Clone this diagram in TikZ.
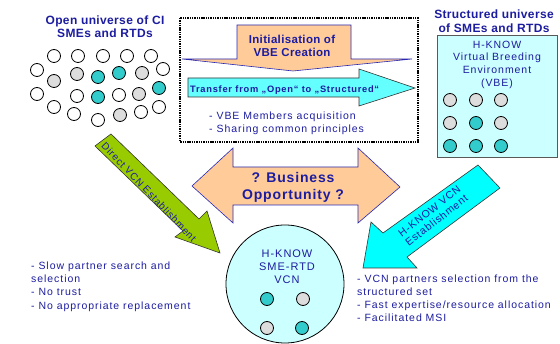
\documentclass[tikz,border=0pt]{standalone}
\usepackage{fontspec}
\setmainfont{Liberation Sans}
\newfontfamily\rgf[LetterSpace=9]{Liberation Sans}
\newfontfamily\hdf[LetterSpace=3]{Liberation Sans}
\newfontfamily\tbf[LetterSpace=8]{Liberation Sans}
\newfontfamily\bof[LetterSpace=6]{Liberation Sans}
\definecolor{bluetxt}{RGB}{28,28,160}
\definecolor{orfill}{RGB}{255,204,153}
\definecolor{orline}{RGB}{40,40,180}
\definecolor{cyanA}{RGB}{100,255,255}
\definecolor{cyanB}{RGB}{0,255,255}
\definecolor{lcyan}{RGB}{204,255,255}
\definecolor{tealc}{RGB}{51,204,204}
\definecolor{grayc}{RGB}{221,221,221}
\definecolor{greenc}{RGB}{153,204,0}
\begin{document}
\begin{tikzpicture}[x=1pt,y=-1pt,
  dot/.style={circle,draw=black,line width=0.8pt,minimum size=13pt,inner sep=0pt},
  wd/.style={dot,fill=white},
  gd/.style={dot,fill=grayc},
  td/.style={dot,fill=tealc},
  heading/.style={inner sep=0pt,text=bluetxt,align=center,font={\hdf\bfseries\fontsize{12}{13.5}\selectfont}},
  plain/.style={inner sep=0pt,text=bluetxt,font={\rgf\fontsize{10.5}{13.2}\selectfont}},
  orarrow/.style={fill=orfill,draw=orline,line width=0.6pt,line join=miter},
  cyarrow/.style={draw=black!80,line width=0.6pt},
  dotbox/.style={draw=black,line width=2pt,dash pattern=on 1.4pt off 0.9pt}
]
\useasboundingbox (0,0) rectangle (560,344);

% cut title
\begin{scope}
\clip (0,0) rectangle (560,344);
\node[anchor=base west,inner sep=0pt,font={\tbf\bfseries\fontsize{20}{24}\selectfont}] (title) at (82,-5) {Bridging Opportunity};
\end{scope}

% left heading
\node[heading] (openh) at (105,26.5) {Open universe of CI\\SMEs and RTDs};

% left circles
\node[wd] (a1) at (54,56) {};
\node[wd] (a2) at (78,56) {};
\node[wd] (a3) at (103,56) {};
\node[wd] (a4) at (127,56) {};
\node[wd] (a5) at (151,56) {};
\node[wd] (b1) at (37,70) {};
\node[gd] (b2) at (54,81) {};
\node[gd] (b3) at (77,74) {};
\node[td] (b4) at (98,77) {};
\node[td] (b5) at (119,73) {};
\node[gd] (b6) at (142,73) {};
\node[wd] (b7) at (163,69) {};
\node[wd] (c1) at (37,94) {};
\node[wd] (c2) at (77,96) {};
\node[td] (c3) at (98,97) {};
\node[wd] (c4) at (119,95) {};
\node[gd] (c5) at (139,94) {};
\node[td] (c6) at (159,88) {};
\node[wd] (d1) at (54,107) {};
\node[wd] (d2) at (74,114) {};
\node[wd] (d3) at (98,120) {};
\node[gd] (d4) at (120,115) {};
\node[wd] (d5) at (141,112) {};
\node[wd] (d6) at (159,107) {};

% dotted box
\draw[dotbox] (180,18) rectangle (418,142);

% orange down arrow
\draw[orarrow] (237,25) -- (351,25) -- (351,59) -- (412,59) -- (293,71) -- (182,59) -- (237,59) -- cycle;
\node[heading,font={\hdf\bfseries\fontsize{11.5}{13}\selectfont}] (init) at (292,45.5) {Initialisation of\\VBE Creation};

% transfer arrow
\draw[cyarrow,fill=cyanA] (188,78) -- (359,78) -- (359,69) -- (415,88) -- (359,106) -- (359,97) -- (188,97) -- cycle;
\node[anchor=west,inner sep=0pt,text=bluetxt,font={\tbf\bfseries\fontsize{9.3}{11}\selectfont}] (transfer) at (190,90.5) {Transfer from „Open“ to „Structured“};

% bullets in box
\node[plain,anchor=west,align=left] (boxtxt) at (209,123.5) {- VBE Members acquisition\\- Sharing common principles};

% right heading
\node[heading] (structh) at (494,21) {Structured universe\\of SMEs and RTDs};

% VBE box
\node[draw=black!65,line width=0.9pt,fill=lcyan,minimum width=120pt,minimum height=122pt,inner sep=0pt] (vbe) at (497,96) {};
\node[plain,align=center,font={\rgf\fontsize{10.5}{12.7}\selectfont}] (vbetxt) at (497,64.5) {H-KNOW\\Virtual Breeding\\Environment\\(VBE)};
\node[gd] (e1) at (450,100) {};
\node[gd] (e2) at (476,100) {};
\node[gd] (e3) at (501,100) {};
\node[gd] (f1) at (450,123) {};
\node[td] (f2) at (476,123) {};
\node[gd] (f3) at (501,123) {};
\node[td] (g1) at (450,146) {};
\node[td] (g2) at (476,146) {};
\node[td] (g3) at (501,146) {};

% business opportunity double arrow
\draw[orarrow] (192,186) -- (233,148) -- (233,167) -- (358,167) -- (358,148) -- (400,187) -- (358,223) -- (358,205) -- (233,205) -- (233,223) -- cycle;
\node[inner sep=0pt,text=bluetxt,align=center,font={\bof\bfseries\fontsize{14}{17}\selectfont}] (biz) at (293,187) {? Business\\Opportunity ?};

% green arrow
\draw[draw=black!80,line width=0.6pt,fill=greenc] (95,146) -- (111,134) -- (199,219) -- (207,211) -- (220,253) -- (175,237) -- (183,231) -- cycle;
\node[inner sep=0pt,text=bluetxt,rotate=-46.5,font={\tbf\fontsize{10}{12}\selectfont}] (direct) at (149,192) {Direct VCN Establishment};

% cyan arrow
\draw[cyarrow,fill=cyanB] (478,165) -- (500,188) -- (407,257) -- (417,268) -- (363,268) -- (371,222) -- (383,233) -- cycle;
\node[inner sep=0pt,text=bluetxt,rotate=38,align=center,font={\tbf\fontsize{10.5}{11.5}\selectfont}] (hknowvcn) at (433,216) {H-KNOW VCN\\Establishment};

% VCN circle
\node[circle,draw=black,line width=0.8pt,fill=lcyan,minimum size=118pt,inner sep=0pt] (vcn) at (285,284) {};
\node[plain,align=center,font={\rgf\fontsize{11}{13}\selectfont}] (vcntxt) at (287,266.5) {H-KNOW\\SME-RTD\\VCN};
\node[td] (h1) at (267,299) {};
\node[gd] (h2) at (303,299) {};
\node[gd] (h3) at (267,328) {};
\node[td] (h4) at (302,328) {};

% bottom texts
\node[plain,anchor=west,align=left] (lefttxt) at (31,286.5) {- Slow partner search and\\selection\\- No trust\\- No appropriate replacement};
\node[plain,anchor=west,align=left,font={\rgf\fontsize{10.5}{13}\selectfont}] (righttxt) at (357,298) {- VCN partners selection from the\\structured set\\- Fast expertise/resource allocation\\- Facilitated MSI};
\end{tikzpicture}
\end{document}
